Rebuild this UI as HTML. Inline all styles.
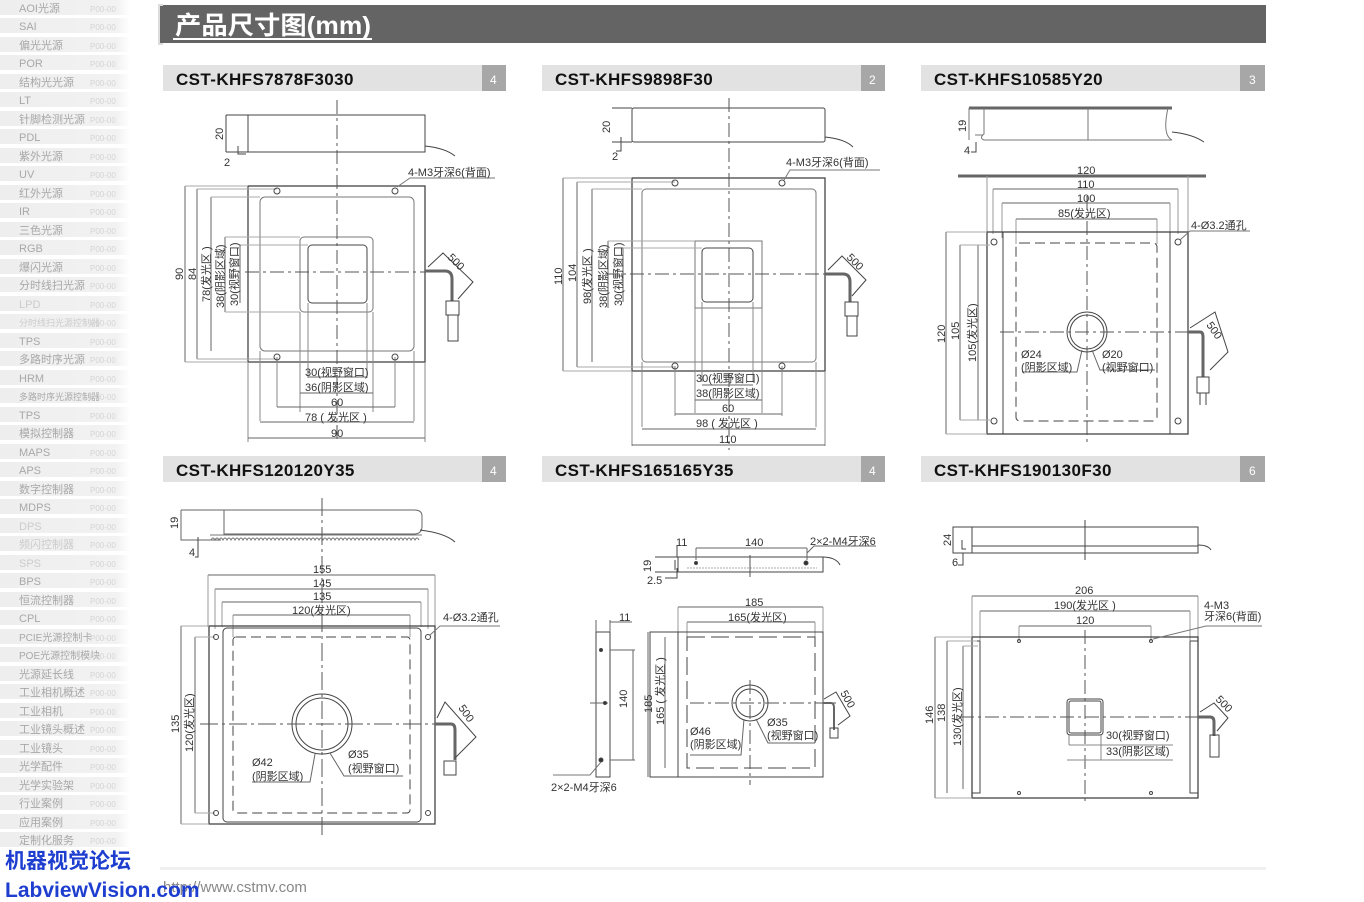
<!DOCTYPE html>
<html><head><meta charset="utf-8"><style>
html,body{margin:0;padding:0;background:#fff;}
svg{display:block;}
text{font-family:"Liberation Sans","Noto Sans CJK SC",sans-serif;}
</style></head><body>
<svg width="1364" height="902" viewBox="0 0 1364 902" xmlns="http://www.w3.org/2000/svg">
<rect width="1364" height="902" fill="#fff"/>
<!-- sidebar -->
<g font-size="11" fill="#a8a8a8">
<defs><linearGradient id="sb" x1="0" x2="1"><stop offset="0" stop-color="#eeeeee"/><stop offset="0.9" stop-color="#f2f2f2"/><stop offset="1" stop-color="#fff"/></linearGradient></defs>
<g id="rows">
<rect x="0" y="0" width="130" height="15" fill="url(#sb)"/>
<rect x="0" y="18" width="130" height="15" fill="url(#sb)"/>
<rect x="0" y="37" width="130" height="15" fill="url(#sb)"/>
<rect x="0" y="55" width="130" height="15" fill="url(#sb)"/>
<rect x="0" y="74" width="130" height="15" fill="url(#sb)"/>
<rect x="0" y="92" width="130" height="15" fill="url(#sb)"/>
<rect x="0" y="111" width="130" height="15" fill="url(#sb)"/>
<rect x="0" y="129" width="130" height="15" fill="url(#sb)"/>
<rect x="0" y="148" width="130" height="15" fill="url(#sb)"/>
<rect x="0" y="166" width="130" height="15" fill="url(#sb)"/>
<rect x="0" y="185" width="130" height="15" fill="url(#sb)"/>
<rect x="0" y="203" width="130" height="15" fill="url(#sb)"/>
<rect x="0" y="222" width="130" height="15" fill="url(#sb)"/>
<rect x="0" y="240" width="130" height="15" fill="url(#sb)"/>
<rect x="0" y="259" width="130" height="15" fill="url(#sb)"/>
<rect x="0" y="277" width="130" height="15" fill="url(#sb)"/>
<rect x="0" y="296" width="130" height="15" fill="url(#sb)"/>
<rect x="0" y="314" width="130" height="15" fill="url(#sb)"/>
<rect x="0" y="333" width="130" height="15" fill="url(#sb)"/>
<rect x="0" y="351" width="130" height="15" fill="url(#sb)"/>
<rect x="0" y="370" width="130" height="15" fill="url(#sb)"/>
<rect x="0" y="388" width="130" height="15" fill="url(#sb)"/>
<rect x="0" y="407" width="130" height="15" fill="url(#sb)"/>
<rect x="0" y="425" width="130" height="15" fill="url(#sb)"/>
<rect x="0" y="444" width="130" height="15" fill="url(#sb)"/>
<rect x="0" y="462" width="130" height="15" fill="url(#sb)"/>
<rect x="0" y="481" width="130" height="15" fill="url(#sb)"/>
<rect x="0" y="499" width="130" height="15" fill="url(#sb)"/>
<rect x="0" y="518" width="130" height="15" fill="url(#sb)"/>
<rect x="0" y="536" width="130" height="15" fill="url(#sb)"/>
<rect x="0" y="555" width="130" height="15" fill="url(#sb)"/>
<rect x="0" y="573" width="130" height="15" fill="url(#sb)"/>
<rect x="0" y="592" width="130" height="15" fill="url(#sb)"/>
<rect x="0" y="610" width="130" height="15" fill="url(#sb)"/>
<rect x="0" y="629" width="130" height="15" fill="url(#sb)"/>
<rect x="0" y="647" width="130" height="15" fill="url(#sb)"/>
<rect x="0" y="666" width="130" height="15" fill="url(#sb)"/>
<rect x="0" y="684" width="130" height="15" fill="url(#sb)"/>
<rect x="0" y="703" width="130" height="15" fill="url(#sb)"/>
<rect x="0" y="721" width="130" height="15" fill="url(#sb)"/>
<rect x="0" y="740" width="130" height="15" fill="url(#sb)"/>
<rect x="0" y="758" width="130" height="15" fill="url(#sb)"/>
<rect x="0" y="777" width="130" height="15" fill="url(#sb)"/>
<rect x="0" y="795" width="130" height="15" fill="url(#sb)"/>
<rect x="0" y="814" width="130" height="15" fill="url(#sb)"/>
<rect x="0" y="832" width="130" height="15" fill="url(#sb)"/>
</g>
<text x="19" y="12">AOI光源</text><text x="19" y="30">SAI</text><text x="19" y="49">偏光光源</text><text x="19" y="67">POR</text><text x="19" y="86">结构光光源</text><text x="19" y="104">LT</text><text x="19" y="123">针脚检测光源</text><text x="19" y="141">PDL</text><text x="19" y="160">紫外光源</text><text x="19" y="178">UV</text><text x="19" y="197">红外光源</text><text x="19" y="215">IR</text><text x="19" y="234">三色光源</text><text x="19" y="252">RGB</text><text x="19" y="271">爆闪光源</text><text x="19" y="289">分时线扫光源</text><text x="19" y="308" fill="#ccc">LPD</text><text x="19" y="326" fill="#ccc" font-size="9">分时线扫光源控制器</text><text x="19" y="345">TPS</text><text x="19" y="363">多路时序光源</text><text x="19" y="382">HRM</text><text x="19" y="400" font-size="9">多路时序光源控制器</text><text x="19" y="419">TPS</text><text x="19" y="437">模拟控制器</text><text x="19" y="456">MAPS</text><text x="19" y="474">APS</text><text x="19" y="493">数字控制器</text><text x="19" y="511">MDPS</text><text x="19" y="530" fill="#ccc">DPS</text><text x="19" y="548" fill="#ccc">频闪控制器</text><text x="19" y="567" fill="#ccc">SPS</text><text x="19" y="585">BPS</text><text x="19" y="604">恒流控制器</text><text x="19" y="622">CPL</text><text x="19" y="641" font-size="10">PCIE光源控制卡</text><text x="19" y="659" font-size="10">POE光源控制模块</text><text x="19" y="678">光源延长线</text><text x="19" y="696">工业相机概述</text><text x="19" y="715">工业相机</text><text x="19" y="733">工业镜头概述</text><text x="19" y="752">工业镜头</text><text x="19" y="770">光学配件</text><text x="19" y="789">光学实验架</text><text x="19" y="807">行业案例</text><text x="19" y="826">应用案例</text><text x="19" y="844">定制化服务</text>
<g fill="#d4d4d4" font-size="8">
<text x="90" y="12">P00-00</text><text x="90" y="30">P00-00</text><text x="90" y="49">P00-00</text><text x="90" y="67">P00-00</text><text x="90" y="86">P00-00</text><text x="90" y="104">P00-00</text><text x="90" y="123">P00-00</text><text x="90" y="141">P00-00</text><text x="90" y="160">P00-00</text><text x="90" y="178">P00-00</text><text x="90" y="197">P00-00</text><text x="90" y="215">P00-00</text><text x="90" y="234">P00-00</text><text x="90" y="252">P00-00</text><text x="90" y="271">P00-00</text><text x="90" y="289">P00-00</text><text x="90" y="308">P00-00</text><text x="90" y="326">P00-00</text><text x="90" y="345">P00-00</text><text x="90" y="363">P00-00</text><text x="90" y="382">P00-00</text><text x="90" y="400">P00-00</text><text x="90" y="419">P00-00</text><text x="90" y="437">P00-00</text><text x="90" y="456">P00-00</text><text x="90" y="474">P00-00</text><text x="90" y="493">P00-00</text><text x="90" y="511">P00-00</text><text x="90" y="530">P00-00</text><text x="90" y="548">P00-00</text><text x="90" y="567">P00-00</text><text x="90" y="585">P00-00</text><text x="90" y="604">P00-00</text><text x="90" y="622">P00-00</text><text x="90" y="641">P00-00</text><text x="90" y="659">P00-00</text><text x="90" y="678">P00-00</text><text x="90" y="696">P00-00</text><text x="90" y="715">P00-00</text><text x="90" y="733">P00-00</text><text x="90" y="752">P00-00</text><text x="90" y="770">P00-00</text><text x="90" y="789">P00-00</text><text x="90" y="807">P00-00</text><text x="90" y="826">P00-00</text><text x="90" y="844">P00-00</text>
</g>
</g>

<!-- header -->
<rect x="160" y="5" width="1106" height="38" fill="#646464"/>
<path d="M163 5 h-4 v39 h4" stroke="#ddd" stroke-width="2" fill="none"/>
<text x="175" y="34" font-size="25" font-weight="bold" fill="#fff" textLength="196" lengthAdjust="spacingAndGlyphs">产品尺寸图(mm)</text>
<rect x="173" y="38" width="199" height="2" fill="#fff"/>

<!-- panel headers -->
<g font-size="17" fill="#111" font-weight="bold" letter-spacing="0.4">
<rect x="163" y="65" width="319" height="26" fill="#e2e2e2"/><rect x="482" y="65" width="24" height="26" fill="#a7a7a7"/><text x="176" y="85">CST-KHFS7878F3030</text><text x="490" y="84" font-size="12" font-weight="normal" fill="#fff">4</text>
<rect x="542" y="65" width="319" height="26" fill="#e2e2e2"/><rect x="861" y="65" width="24" height="26" fill="#a7a7a7"/><text x="555" y="85">CST-KHFS9898F30</text><text x="869" y="84" font-size="12" font-weight="normal" fill="#fff">2</text>
<rect x="921" y="65" width="319" height="26" fill="#e2e2e2"/><rect x="1240" y="65" width="25" height="26" fill="#a7a7a7"/><text x="934" y="85">CST-KHFS10585Y20</text><text x="1249" y="84" font-size="12" font-weight="normal" fill="#fff">3</text>
<rect x="163" y="456" width="319" height="26" fill="#e2e2e2"/><rect x="482" y="456" width="24" height="26" fill="#a7a7a7"/><text x="176" y="476">CST-KHFS120120Y35</text><text x="490" y="475" font-size="12" font-weight="normal" fill="#fff">4</text>
<rect x="542" y="456" width="319" height="26" fill="#e2e2e2"/><rect x="861" y="456" width="24" height="26" fill="#a7a7a7"/><text x="555" y="476">CST-KHFS165165Y35</text><text x="869" y="475" font-size="12" font-weight="normal" fill="#fff">4</text>
<rect x="921" y="456" width="319" height="26" fill="#e2e2e2"/><rect x="1240" y="456" width="25" height="26" fill="#a7a7a7"/><text x="934" y="476">CST-KHFS190130F30</text><text x="1249" y="475" font-size="12" font-weight="normal" fill="#fff">6</text>
</g>

<g stroke="#444" stroke-width="1" fill="none">
<!-- ===== Panel 1 ===== -->
<rect x="248" y="115" width="177" height="37"/><path d="M226 115h22 M226 152h22 M226 115v37 M238 146v8h8"/>
<path d="M425 146 q20 2 30 10"/>
<rect x="248" y="186" width="177" height="176" stroke-width="1.3"/>
<rect x="260" y="197" width="154" height="154" rx="5" stroke="#777"/>
<rect x="300" y="237" width="73" height="75" rx="4" stroke="#777"/>
<rect x="308" y="245" width="59" height="58" rx="4"/>
<path d="M337 100 V440 M245 272 H440" stroke-dasharray="14,4,3,4" stroke="#555"/>
<path d="M185 186v176 M197 189v170 M211 197v154 M225 237v75 M240 245v58" stroke="#666"/>
<path d="M185 186h63 M197 189h80 M211 197h49 M225 237h75 M240 245h68 M225 312h75 M185 362h63 M197 359h80" stroke="#aaa"/>
<path d="M300 312v100 M373 312v100 M308 303v75 M367 303v75 M277 357v50 M395 357v50 M260 351v70 M414 351v70 M248 362v80 M425 362v80" stroke="#888"/>
<path d="M308 377h59 M300 393h73 M277 407h118 M260 422h154 M248 438h177" stroke="#666"/>
<circle cx="277" cy="191" r="3"/><circle cx="395" cy="191" r="3"/><circle cx="277" cy="357" r="3"/><circle cx="395" cy="357" r="3"/>
<path d="M397 187 L410 178 H495" stroke="#777"/>
<path d="M425 271 h20 q7 0 7 8 v22" stroke-width="3" stroke="#666"/>
<rect x="446" y="301" width="13" height="14"/><rect x="448" y="315" width="10" height="26"/>
<path d="M428 267 L443 253 L473 282 L458 299"/>

<!-- ===== Panel 2 ===== -->
<rect x="632" y="108" width="193" height="34" rx="2"/><path d="M612 108h20 M612 142h20 M621 137v14h-5"/>
<path d="M825 137 q20 2 28 10"/>
<rect x="632" y="178" width="193" height="193" stroke-width="1.3"/>
<rect x="642" y="189" width="174" height="173" rx="4" stroke="#777"/>
<rect x="695" y="241" width="67" height="67" stroke="#777"/>
<rect x="702" y="248" width="51" height="54" rx="4"/>
<path d="M729 98 V450 M605 274 H845" stroke-dasharray="14,4,3,4" stroke="#555"/>
<path d="M563 178v193 M577 182v185 M592 189v173 M608 241v67 M623 248v54" stroke="#666"/>
<path d="M563 178h69 M577 182h98 M592 189h50 M608 241h87 M563 371h69 M577 367h98 M623 248h79" stroke="#aaa"/>
<path d="M695 308v105 M762 308v105 M702 302v80 M753 302v80 M675 366v50 M782 366v50 M642 362v65 M816 362v65 M632 371v75 M825 371v75" stroke="#888"/>
<path d="M702 385h51 M695 400h67 M675 414h107 M642 429h174 M632 445h193" stroke="#666"/>
<circle cx="675" cy="183" r="3"/><circle cx="782" cy="183" r="3"/><circle cx="675" cy="366" r="3"/><circle cx="782" cy="366" r="3"/>
<path d="M784 180 L790 170 H880" stroke="#777"/>
<path d="M825 274 h18 q7 0 7 8 v20" stroke-width="3" stroke="#666"/>
<rect x="845" y="302" width="13" height="14"/><rect x="847" y="316" width="10" height="20"/>
<path d="M828 270 L842 256 L866 280 L852 296"/>

<!-- ===== Panel 3 ===== -->
<path d="M969 108 H1172" stroke-width="3" stroke="#666"/>
<path d="M984 108 v26 q-5 4 0 6 h188 q-10 -5 -4 -32 M1088 108v32 M969 108v32 M975 135h8" stroke="#777"/>
<path d="M1172 132 q20 2 32 10 M976 142v10h-5"/>
<path d="M958 176 H1206" stroke-width="3" stroke="#666"/>
<path d="M993 189H1178 M1002 203H1170 M1016 219H1157" stroke="#666"/>
<path d="M987 176v56 M1188 176v56 M993 189v45 M1178 189v45 M1002 203v35 M1170 203v35 M1016 219v25 M1157 219v25" stroke="#999"/>
<rect x="987" y="232" width="201" height="202" stroke-width="1.3"/>
<path d="M1003 232v202 M1170 232v202"/>
<rect x="1016" y="243" width="141" height="178" rx="4" stroke-dasharray="10,5"/>
<circle cx="1087" cy="332" r="20"/><circle cx="1087" cy="332" r="17"/>
<path d="M1087 196 V445 M1000 332 H1190" stroke-dasharray="14,4,3,4" stroke="#555"/>
<path d="M946 232v202 M960 245v175 M978 245v175" stroke="#666"/>
<path d="M946 232h41 M946 434h41 M960 245h30 M960 420h30" stroke="#aaa"/>
<circle cx="994" cy="242" r="3"/><circle cx="1178" cy="242" r="3"/><circle cx="994" cy="421" r="3"/><circle cx="1178" cy="421" r="3"/>
<path d="M1180 240 L1190 231 H1250" stroke="#777"/>
<path d="M1082 350 L1077 372 H1022 M1092 350 L1100 370 H1155" stroke="#666"/>
<path d="M1188 332 h12 q3 0 3 5 v40" stroke-width="3" stroke="#666"/>
<rect x="1197" y="377" width="12" height="16"/><path d="M1200 393v12 M1206 393v12"/>
<path d="M1190 328 L1215 312 L1228 352 L1210 370"/>

<!-- ===== Panel 4 ===== -->
<path d="M181 510 H224 V532 M181 510 v30 h40 M224 510 v24 h190 q8 0 8 -8 v-10 q0 -6 -8 -6 H224" stroke="#666"/>
<path d="M210 535 h212 M211 540 q2 -4 4 0 q2 -4 4 0 q2 -4 4 0 q2 -4 4 0 q2 -4 4 0 q2 -4 4 0 q2 -4 4 0 q2 -4 4 0 q2 -4 4 0 q2 -4 4 0 q2 -4 4 0 q2 -4 4 0 q2 -4 4 0 q2 -4 4 0 q2 -4 4 0 q2 -4 4 0 q2 -4 4 0 q2 -4 4 0 q2 -4 4 0 q2 -4 4 0 q2 -4 4 0 q2 -4 4 0 q2 -4 4 0 q2 -4 4 0 q2 -4 4 0 q2 -4 4 0 q2 -4 4 0 q2 -4 4 0 q2 -4 4 0 q2 -4 4 0 q2 -4 4 0 q2 -4 4 0 q2 -4 4 0 q2 -4 4 0 q2 -4 4 0 q2 -4 4 0 q2 -4 4 0 q2 -4 4 0 q2 -4 4 0 q2 -4 4 0 q2 -4 4 0 q2 -4 4 0 q2 -4 4 0 q2 -4 4 0 q2 -4 4 0 q2 -4 4 0 q2 -4 4 0 q2 -4 4 0 q2 -4 4 0 q2 -4 4 0 q2 -4 4 0 q2 -4 4 0" stroke="#777"/>
<path d="M420 530 q25 3 35 12 M198 537v20h-3"/>
<path d="M208 575H435 M215 589H428 M222 602H421 M233 615H410" stroke="#666"/>
<path d="M208 575v52 M435 575v52 M215 589v40 M428 589v40 M222 602v25 M421 602v25 M233 615v22 M410 615v22" stroke="#999"/>
<rect x="209" y="626" width="226" height="198" stroke-width="1.3"/>
<rect x="223" y="628" width="198" height="194" rx="4"/>
<rect x="233" y="637" width="177" height="176" rx="3" stroke-dasharray="10,5"/>
<circle cx="322" cy="724" r="30"/><circle cx="322" cy="724" r="26"/>
<path d="M322 498 V835 M200 724 H440" stroke-dasharray="18,4,3,4" stroke="#555"/>
<path d="M181 626v198 M195 637v176" stroke="#666"/>
<path d="M181 626h28 M181 824h28 M195 637h20 M195 813h20" stroke="#aaa"/>
<circle cx="216" cy="637" r="2.5"/><circle cx="428" cy="637" r="2.5"/><circle cx="216" cy="813" r="2.5"/><circle cx="428" cy="813" r="2.5"/>
<path d="M430 635 L440 626 H500" stroke="#777"/>
<path d="M315 754 L310 782 H252 M330 753 L344 776 H403" stroke="#666"/>
<path d="M435 724 h16 q4 0 4 6 v30" stroke-width="3" stroke="#666"/>
<rect x="444" y="761" width="12" height="14"/>
<path d="M437 718 L445 702 L476 737 L455 758"/>

<!-- ===== Panel 5 ===== -->
<rect x="678" y="557" width="145" height="15"/><path d="M655 557h23 M655 572h23 M675 560v10 M677 568v10h-12 M677 545v12 M822 557 q14 0 18 8"/>
<path d="M687 568 h130" stroke="#aaa" stroke-dasharray="2,1"/>
<path d="M750 555v22" stroke="#555"/>
<path d="M696 548H807 M696 548v12 M807 548v12 M807 553 L814 546 H876" stroke="#666"/>
<circle cx="696" cy="563" r="1.5" fill="#333"/><circle cx="806" cy="563" r="2" fill="#333"/>
<path d="M678 607H823 M687 622H815" stroke="#666"/><path d="M678 607v25 M823 607v25 M687 622v15 M815 622v15" stroke="#999"/>
<rect x="650" y="632" width="173" height="145"/><path d="M678 632v145"/>
<rect x="687" y="637" width="128" height="131" stroke-dasharray="18,6"/>
<circle cx="750" cy="703" r="18"/><circle cx="750" cy="703" r="14"/>
<path d="M750 680 V785 M690 703 H840" stroke-dasharray="14,4,3,4" stroke="#555"/>
<path d="M648 632v145 M665 637v131" stroke="#666"/>
<path d="M744 719 L741 755 H690 M756 719 L768 743 H815" stroke="#666"/>
<path d="M823 703 h8 q3 0 3 5 v22" stroke-width="2" stroke="#666"/><rect x="830" y="728" width="8" height="10"/>
<path d="M824 699 L836 692 L850 716 L838 725"/>
<rect x="596" y="632" width="14" height="145"/>
<path d="M596 620v12 M610 620v12 M610 622h22 M610 650h25 M610 760h25 M633 650v110 M590 703h18" stroke="#666"/>
<circle cx="601" cy="650" r="1.5" fill="#333"/><circle cx="601" cy="760" r="2" fill="#333"/><circle cx="605" cy="703" r="1.5" fill="#333"/>
<path d="M601 762 L590 775 H553" stroke="#777"/>

<!-- ===== Panel 6 ===== -->
<rect x="953" y="527" width="245" height="26"/><path d="M972 527v26 M972 546 h226 M962 540v9h4 M963 553v12h-5 M1085 520v40 M1198 545 q10 0 13 5"/>
<path d="M972 596H1198 M980 611H1190 M1019 626H1151" stroke="#666"/>
<path d="M972 596v41 M1198 596v41 M980 611v30 M1190 611v30 M1019 626v15 M1151 626v15" stroke="#999"/>
<rect x="972" y="637" width="226" height="161" stroke-width="1.3"/>
<path d="M980 641v152 h-8 M1190 641v152 h8 M972 641h8 M1190 641h8"/>
<rect x="1067" y="699" width="36" height="36" rx="3"/><rect x="1069" y="701" width="32" height="32" rx="2"/>
<path d="M1085 630 V805 M960 717 H1200" stroke-dasharray="14,4,3,4" stroke="#555"/>
<path d="M935 637v161 M947 641v152 M963 646v143" stroke="#666"/>
<path d="M935 637h37 M935 798h37 M947 641h30 M963 646h15" stroke="#aaa"/>
<path d="M1069 735v10 M1101 735v25 M1069 745h104 M1067 760h106" stroke="#888"/>
<circle cx="1019" cy="641" r="1.5"/><circle cx="1151" cy="641" r="1.5"/><circle cx="1019" cy="793" r="1.5"/><circle cx="1151" cy="793" r="1.5"/>
<path d="M1153 639 L1206 626 H1262" stroke="#777"/>
<path d="M1198 717 h12 q4 0 4 5 v14" stroke-width="3" stroke="#666"/>
<rect x="1210" y="735" width="9" height="22"/>
<path d="M1200 712 L1214 703 L1228 718 L1217 731"/>
</g>

<!-- dimension text -->
<g font-size="11" fill="#333">
<text transform="translate(223,140) rotate(-90)">20</text><text x="224" y="166">2</text>
<text x="408" y="176">4-M3牙深6(背面)</text>
<text transform="translate(183,280) rotate(-90)">90</text>
<text transform="translate(196,280) rotate(-90)">84</text>
<text transform="translate(210,302) rotate(-90)">78(发光区 )</text>
<text transform="translate(224,308) rotate(-90)">38(阴影区域)</text>
<text transform="translate(238,306) rotate(-90)">30(视野窗口)</text>
<text x="305" y="376">30(视野窗口)</text><text x="305" y="391">36(阴影区域)</text>
<text x="331" y="406">60</text><text x="305" y="421">78 ( 发光区 )</text><text x="331" y="437">90</text>
<text transform="translate(447,258) rotate(45)">500</text>

<text transform="translate(610,133) rotate(-90)">20</text><text x="612" y="160">2</text>
<text x="786" y="166">4-M3牙深6(背面)</text>
<text transform="translate(562,285) rotate(-90)">110</text>
<text transform="translate(576,282) rotate(-90)">104</text>
<text transform="translate(591,304) rotate(-90)">98(发光区 )</text>
<text transform="translate(607,308) rotate(-90)">38(阴影区域)</text>
<text transform="translate(622,306) rotate(-90)">30(视野窗口)</text>
<text x="696" y="382">30(视野窗口)</text><text x="696" y="397">38(阴影区域)</text>
<text x="722" y="412">60</text><text x="696" y="427">98 ( 发光区 )</text><text x="719" y="443">110</text>
<text transform="translate(846,258) rotate(45)">500</text>

<text transform="translate(966,132) rotate(-90)">19</text><text x="964" y="154">4</text>
<text x="1077" y="174">120</text><text x="1077" y="188">110</text><text x="1077" y="202">100</text><text x="1058" y="217">85(发光区)</text>
<text x="1191" y="229">4-Ø3.2通孔</text>
<text transform="translate(945,343) rotate(-90)">120</text>
<text transform="translate(959,340) rotate(-90)">105</text>
<text transform="translate(976,362) rotate(-90)">105(发光区)</text>
<text x="1021" y="358">Ø24</text><text x="1021" y="371">(阴影区域)</text>
<text x="1102" y="358">Ø20</text><text x="1102" y="371">(视野窗口)</text>
<text transform="translate(1206,325) rotate(55)">500</text>

<text transform="translate(178,529) rotate(-90)">19</text><text x="189" y="556">4</text>
<text x="313" y="573">155</text><text x="313" y="587">145</text><text x="313" y="600">135</text><text x="292" y="614">120(发光区)</text>
<text x="443" y="621">4-Ø3.2通孔</text>
<text transform="translate(179,733) rotate(-90)">135</text>
<text transform="translate(193,752) rotate(-90)">120(发光区)</text>
<text x="252" y="766">Ø42</text><text x="252" y="780">(阴影区域)</text>
<text x="348" y="758">Ø35</text><text x="348" y="772">(视野窗口)</text>
<text transform="translate(458,708) rotate(55)">500</text>

<text x="676" y="546">11</text><text x="745" y="546">140</text><text x="810" y="545">2×2-M4牙深6</text>
<text transform="translate(651,572) rotate(-90)">19</text><text x="647" y="584">2.5</text>
<text x="619" y="621">11</text>
<text transform="translate(627,708) rotate(-90)">140</text>
<text x="551" y="791">2×2-M4牙深6</text>
<text x="745" y="606">185</text><text x="728" y="621">165(发光区)</text>
<text transform="translate(652,713) rotate(-90)">185</text>
<text transform="translate(664,725) rotate(-90)">165 ( 发光区 )</text>
<text x="690" y="735">Ø46</text><text x="690" y="748">(阴影区域)</text>
<text x="767" y="726">Ø35</text><text x="767" y="739">(视野窗口)</text>
<text transform="translate(840,693) rotate(60)">500</text>

<text transform="translate(951,546) rotate(-90)">24</text><text x="952" y="566">6</text>
<text x="1075" y="594">206</text><text x="1054" y="609">190(发光区 )</text><text x="1076" y="624">120</text>
<text x="1204" y="609">4-M3</text><text x="1204" y="620">牙深6(背面)</text>
<text transform="translate(933,724) rotate(-90)">146</text>
<text transform="translate(945,722) rotate(-90)">138</text>
<text transform="translate(961,746) rotate(-90)">130(发光区)</text>
<text x="1106" y="739">30(视野窗口)</text><text x="1106" y="755">33(阴影区域)</text>
<text transform="translate(1215,700) rotate(45)">500</text>
</g>

<!-- footer -->
<rect x="160" y="867" width="1106" height="3" fill="#f0f0f0"/>
<text x="163" y="892" font-size="15" fill="#888">http://www.cstmv.com</text>
<text x="5" y="868" font-size="21" font-weight="bold" fill="#1e3ecf" font-family="'Noto Sans CJK SC',sans-serif">机器视觉论坛</text>
<text x="5" y="897" font-size="21" font-weight="bold" fill="#1e3ecf">LabviewVision.com</text>
</svg>
</body></html>
